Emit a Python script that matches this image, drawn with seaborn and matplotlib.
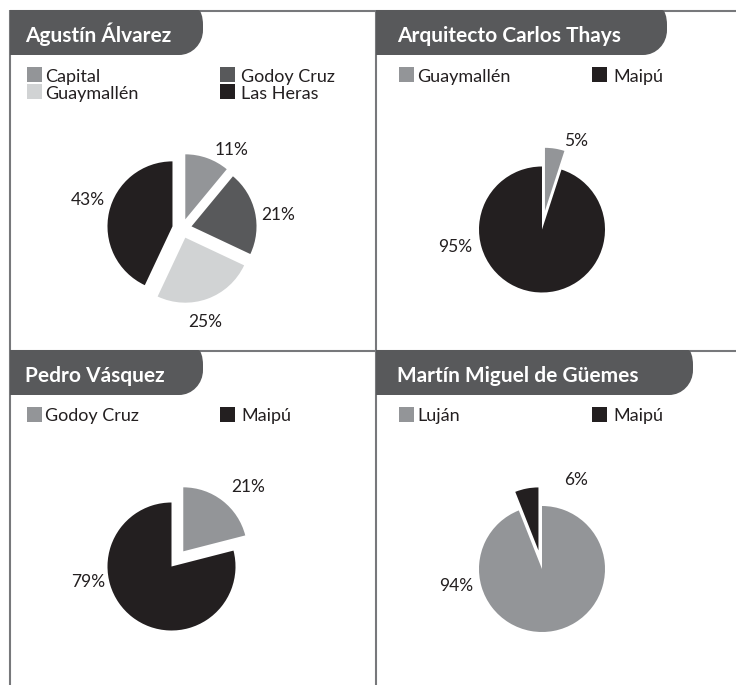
import numpy as np
import matplotlib.pyplot as plt
import seaborn as sns
from matplotlib.patches import Rectangle, PathPatch
from matplotlib.path import Path

# Theme
sns.set_theme(style="white")
plt.rcParams['font.family'] = ['Lato', 'DejaVu Sans']

# Data
alvarez_labels = ["Capital", "Godoy Cruz", "Guaymallén", "Las Heras"]
alvarez_values = [11, 21, 25, 43]
thays_labels = ["Guaymallén", "Maipú"]
thays_values = [5, 95]
vasquez_labels = ["Godoy Cruz", "Maipú"]
vasquez_values = [21, 79]
guemes_labels = ["Luján", "Maipú"]
guemes_values = [94, 6]

# Colours
MID = "#939598"
DARK = "#58595b"
LIGHT = "#d1d3d4"
BLACK = "#231f20"
LINE = "#77787b"
TEXT = "#231f20"

W, H = 736, 685

# Layout, in pixels (y measured from the top)
panels = [
    dict(title="Agustín Álvarez", labels=alvarez_labels, values=alvarez_values,
         colors=[MID, DARK, LIGHT, BLACK], explode=[0.15] * 4,
         tab=(10, 10, 203), title_x=25, legend=(27, 74.5),
         center=(182, 228.5), r=65,
         label_pos=[(57.5, 1.43), (8, 1.49), (-76, 1.48), (163, 1.51)]),
    dict(title="Arquitecto Carlos Thays", labels=thays_labels, values=thays_values,
         colors=[MID, BLACK], explode=[0.3, 0],
         tab=(376, 10, 667), title_x=397, legend=(399, 74.5),
         center=(542, 229.5), r=63,
         label_pos=[(69, 1.5), (191.4, 1.4)]),
    dict(title="Pedro Vásquez", labels=vasquez_labels, values=vasquez_values,
         colors=[MID, BLACK], explode=[0.3, 0],
         tab=(10, 350, 203), title_x=25, legend=(27, 414),
         center=(171.5, 566.5), r=64,
         label_pos=[(46, 1.72), (190.5, 1.33)]),
    dict(title="Martín Miguel de Güemes", labels=guemes_labels, values=guemes_values,
         colors=[MID, BLACK], explode=[0, 0.3],
         tab=(376, 350, 693), title_x=397, legend=(399, 414),
         center=(542, 569), r=63,
         label_pos=[(191, 1.39), (69, 1.52)]),
]

fig = plt.figure(figsize=(W / 100, H / 100), dpi=100)
fig.patch.set_facecolor("white")

# Overlay axes in pixel coordinates for frame, tabs and legends
bg = fig.add_axes([0, 0, 1, 1])
bg.set_xlim(0, W)
bg.set_ylim(H, 0)
bg.axis("off")

# Frame lines
for xs, ys in [([10, W], [10.5, 10.5]), ([10, W], [351, 351]),
               ([10, 10], [10, H]), ([376, 376], [10, H])]:
    bg.plot(xs, ys, color=LINE, lw=1.5, solid_capstyle="butt", zorder=1)


def tab_path(x0, top, x1, h=45, rtx=5, rty=15, rbx=24, rby=25):
    k = 0.5523
    bot = top + h
    verts = [
        (x0, top), (x1 - rtx, top),
        (x1 - rtx + k * rtx, top), (x1, top + rty - k * rty), (x1, top + rty),
        (x1, bot - rby),
        (x1, bot - rby + k * rby), (x1 - rbx + k * rbx, bot), (x1 - rbx, bot),
        (x0, bot), (x0, top),
    ]
    codes = [Path.MOVETO, Path.LINETO,
             Path.CURVE4, Path.CURVE4, Path.CURVE4,
             Path.LINETO,
             Path.CURVE4, Path.CURVE4, Path.CURVE4,
             Path.LINETO, Path.CLOSEPOLY]
    return Path(verts, codes)


for p in panels:
    x0, top, x1 = p["tab"]
    bg.add_patch(PathPatch(tab_path(x0, top, x1), facecolor=DARK,
                           edgecolor="none", zorder=2))
    bg.text(p["title_x"], top + 32, p["title"], color="white", fontsize=15,
            fontweight="bold", va="baseline", ha="left", zorder=3)

    # Legend, two columns filled row by row
    lx, ly = p["legend"]
    for i, (lab, col) in enumerate(zip(p["labels"], p["colors"])):
        cx = lx + (i % 2) * 193
        cy = ly + (i // 2) * 17
        bg.add_patch(Rectangle((cx, cy - 7.5), 15, 15, facecolor=col,
                               edgecolor="none", zorder=2))
        gap = 3 if i % 2 == 0 else 6
        bg.text(cx + 15 + gap, cy + 7, lab, color=TEXT, fontsize=13,
                va="baseline", ha="left", zorder=3)

    # Pie
    pcx, pcy, r = p["center"][0], p["center"][1], p["r"]
    ax = fig.add_axes([(pcx - 2 * r) / W, (H - pcy - 2 * r) / H,
                       4 * r / W, 4 * r / H])
    wedges, texts, autotexts = ax.pie(
        p["values"], colors=p["colors"], explode=p["explode"],
        startangle=90, counterclock=False, autopct="%.0f%%",
        wedgeprops=dict(linewidth=0), textprops=dict(color=TEXT, fontsize=12.5))
    for t, (ang, dist) in zip(autotexts, p["label_pos"]):
        a = np.deg2rad(ang)
        t.set_position((dist * np.cos(a), dist * np.sin(a)))
        t.set_ha("center")
        t.set_va("center")
    ax.set_xlim(-2, 2)
    ax.set_ylim(-2, 2)
    ax.set_aspect("equal")
    ax.axis("off")
    ax.patch.set_alpha(0)

fig.savefig("out.png", dpi=100, facecolor="white")
